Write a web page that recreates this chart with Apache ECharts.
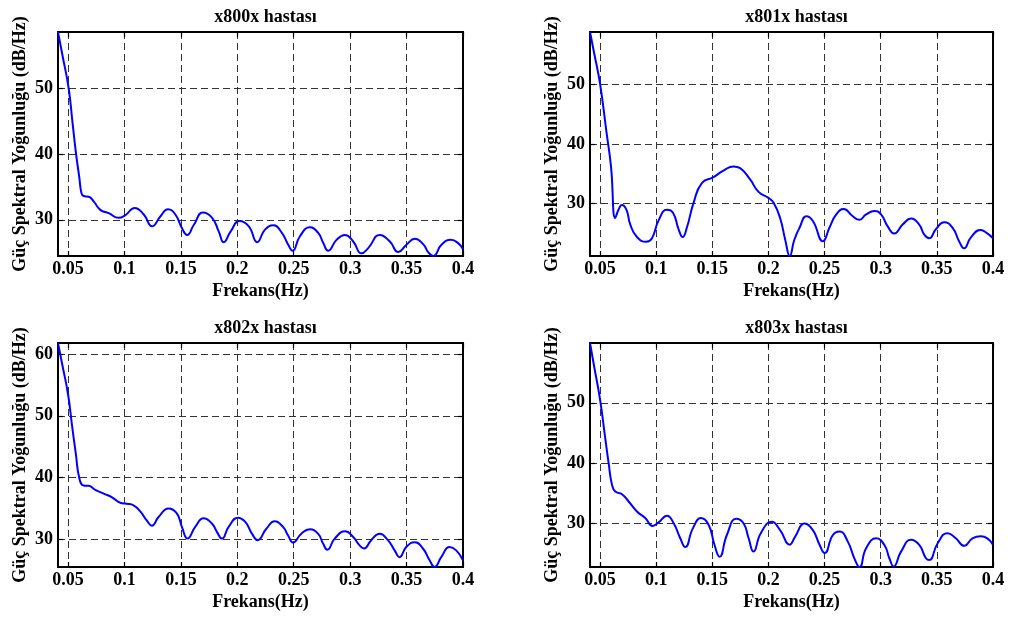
<!DOCTYPE html>
<html><head><meta charset="utf-8">
<script src="https://cdn.jsdelivr.net/npm/echarts@6/dist/echarts.min.js"></script>
<style>html,body{margin:0;padding:0;background:#fff}#c{width:1015px;height:619px}</style>
</head><body><div id="c"></div>
<script>
// ---- data ----
const titles = ['x800x hastası', 'x801x hastası', 'x802x hastası', 'x803x hastası'];
const xName = 'Frekans(Hz)';
const yName = 'Güç Spektral Yoğunluğu (dB/Hz)';
const xTicks = [0.05, 0.1, 0.15, 0.2, 0.25, 0.3, 0.35, 0.4];
const yTicks800 = [30, 40, 50];
const yTicks801 = [30, 40, 50];
const yTicks802 = [30, 40, 50, 60];
const yTicks803 = [30, 40, 50];

// [frequency (Hz), PSD (dB/Hz)]
const psd800 = [[0.0411,58.5],[0.0450,55.0],[0.0505,50.0],[0.0540,44.7],[0.0571,40.0],[0.0600,36.4],[0.0618,34.1],[0.0638,33.6],[0.0683,33.5],[0.0727,32.8],[0.0786,31.5],[0.0860,31.0],[0.0949,30.3],[0.1008,30.7],[0.1090,31.8],[0.1171,30.8],[0.1245,29.0],[0.1318,30.5],[0.1385,31.6],[0.1451,30.8],[0.1510,28.7],[0.1555,27.7],[0.1614,29.2],[0.1695,31.1],[0.1777,30.3],[0.1836,28.2],[0.1880,26.6],[0.1940,28.2],[0.2020,29.8],[0.2102,29.0],[0.2176,26.6],[0.2245,28.5],[0.2319,29.15],[0.2392,28.1],[0.2451,26.2],[0.2490,25.3],[0.2555,27.5],[0.2643,28.85],[0.2717,28.0],[0.2761,26.5],[0.2806,25.3],[0.2879,26.95],[0.2953,27.7],[0.3027,26.7],[0.3100,24.9],[0.3160,25.7],[0.3263,27.7],[0.3352,26.7],[0.3426,25.1],[0.3499,26.2],[0.3573,27.1],[0.3647,26.3],[0.3691,25.1],[0.3736,24.5],[0.3809,26.2],[0.3892,26.95],[0.3957,26.45],[0.4000,25.5]];
const psd801 = [[0.0411,58.85],[0.0450,55.1],[0.0500,50.2],[0.0559,41.8],[0.0598,36.2],[0.0636,27.5],[0.0665,28.9],[0.0696,29.7],[0.0735,28.9],[0.0770,26.4],[0.0829,24.3],[0.0912,23.5],[0.0963,24.1],[0.1022,27.1],[0.1096,28.9],[0.1150,28.4],[0.1200,25.6],[0.1236,24.3],[0.1274,25.9],[0.1334,30.1],[0.1407,33.4],[0.1511,34.4],[0.1600,35.5],[0.1689,36.2],[0.1748,35.9],[0.1837,34.0],[0.1912,31.9],[0.2000,30.9],[0.2045,30.1],[0.2104,27.5],[0.2150,23.8],[0.2190,21.1],[0.2230,23.8],[0.2278,25.9],[0.2338,27.8],[0.2396,27.0],[0.2485,23.6],[0.2544,25.9],[0.2604,28.1],[0.2669,29.0],[0.2751,27.8],[0.2810,27.2],[0.2870,28.1],[0.2944,28.7],[0.3003,28.1],[0.3062,26.1],[0.3121,24.9],[0.3195,26.4],[0.3270,27.4],[0.3343,26.4],[0.3388,24.7],[0.3432,24.1],[0.3491,25.6],[0.3565,26.8],[0.3639,25.9],[0.3698,23.6],[0.3743,22.4],[0.3802,24.2],[0.3890,25.5],[0.3949,24.9],[0.4000,24.1]];
const psd802 = [[0.0411,61.8],[0.0450,58.2],[0.0500,53.5],[0.0535,48.5],[0.0570,43.7],[0.0600,39.9],[0.0638,38.7],[0.0683,38.65],[0.0742,38.0],[0.0816,37.4],[0.0890,36.8],[0.0963,35.9],[0.1022,35.75],[0.1080,35.5],[0.1140,34.5],[0.1199,33.0],[0.1243,32.2],[0.1302,33.6],[0.1390,35.0],[0.1464,34.2],[0.1509,32.0],[0.1559,30.1],[0.1627,32.0],[0.1701,33.4],[0.1775,32.55],[0.1819,31.2],[0.1864,30.1],[0.1923,32.0],[0.2006,33.5],[0.2071,32.8],[0.2130,30.9],[0.2180,29.85],[0.2257,31.7],[0.2332,32.9],[0.2405,32.0],[0.2450,30.6],[0.2494,29.45],[0.2567,30.9],[0.2642,31.6],[0.2715,30.9],[0.2760,29.3],[0.2798,28.3],[0.2863,30.1],[0.2957,31.3],[0.3025,30.4],[0.3084,29.0],[0.3122,28.5],[0.3187,29.85],[0.3261,30.9],[0.3335,29.85],[0.3394,28.2],[0.3438,27.1],[0.3497,28.75],[0.3571,29.5],[0.3645,28.5],[0.3704,26.6],[0.3748,25.5],[0.3807,27.1],[0.3881,28.75],[0.3940,28.2],[0.4000,26.6]];
const psd803 = [[0.0411,59.9],[0.0450,55.8],[0.0500,50.6],[0.0547,44.1],[0.0577,40.0],[0.0607,36.4],[0.0636,35.3],[0.0696,34.86],[0.0755,33.65],[0.0829,32.0],[0.0903,30.9],[0.0969,29.6],[0.1022,30.2],[0.1096,31.3],[0.1156,30.05],[0.1214,27.6],[0.1259,26.1],[0.1327,29.2],[0.1399,30.9],[0.1467,29.8],[0.1520,26.45],[0.1565,24.5],[0.1630,28.1],[0.1713,30.8],[0.1778,30.05],[0.1823,27.6],[0.1867,25.35],[0.1932,28.4],[0.2030,30.3],[0.2104,28.9],[0.2190,26.5],[0.2237,27.8],[0.2322,30.0],[0.2396,28.9],[0.2456,26.45],[0.2500,25.1],[0.2574,28.1],[0.2633,28.7],[0.2707,27.0],[0.2766,24.2],[0.2811,22.8],[0.2870,25.9],[0.2959,27.55],[0.3033,26.45],[0.3077,24.25],[0.3115,22.9],[0.3181,25.35],[0.3270,27.3],[0.3343,26.45],[0.3403,24.25],[0.3432,23.95],[0.3506,26.7],[0.3595,28.4],[0.3669,27.55],[0.3743,26.3],[0.3817,27.55],[0.3891,27.9],[0.3950,27.55],[0.4000,26.5]];

// ---- layout ----
const boxes = [
  {left: 58,  top: 32,  width: 405, height: 224, titleTop: 3},
  {left: 590, top: 32,  width: 403, height: 224, titleTop: 3},
  {left: 58,  top: 343, width: 405, height: 224, titleTop: 314},
  {left: 590, top: 343, width: 403, height: 224, titleTop: 314}
];
const panelData = [psd800, psd801, psd802, psd803];
const panelYTicks = [yTicks800, yTicks801, yTicks802, yTicks803];

const FONT = "'Liberation Serif', 'Times New Roman', serif";
const txt = {fontFamily: FONT, fontWeight: 'bold', fontSize: 18, color: '#000'};
const gridLine = {type: [7, 4], color: '#333', width: 1};
const tick = {show: true, inside: true, length: 5, lineStyle: {color: '#000', width: 1.2}};

const option = {animation: false, backgroundColor: '#fff', title: [], grid: [], xAxis: [], yAxis: [], series: []};

panelData.forEach((data, i) => {
  const b = boxes[i];
  const xs = data.map(d => d[0]), ys = data.map(d => d[1]);
  const xmin = Math.min(...xs), xmax = Math.max(...xs);
  const ymin = Math.min(...ys), ymax = Math.max(...ys);
  const yt = panelYTicks[i];
  option.title.push({
    text: titles[i], left: b.left + b.width / 2, top: b.titleTop, textAlign: 'center',
    textStyle: Object.assign({}, txt)
  });
  option.grid.push({
    left: b.left, top: b.top, width: b.width, height: b.height,
    show: true, borderColor: '#000', borderWidth: 2, backgroundColor: '#fff',
    containLabel: false, outerBoundsMode: 'none'
  });
  option.xAxis.push({
    gridIndex: i, type: 'value', position: 'bottom', min: xmin, max: xmax,
    axisLine: {show: false},
    axisTick: Object.assign({customValues: xTicks}, tick),
    axisLabel: Object.assign({customValues: xTicks, margin: 4}, txt),
    splitLine: {show: true, showMaxLine: false, lineStyle: gridLine},
    name: xName, nameLocation: 'middle', nameGap: 26, nameTextStyle: Object.assign({}, txt)
  });
  option.xAxis.push({
    gridIndex: i, type: 'value', position: 'top', min: xmin, max: xmax,
    axisLine: {show: false},
    axisTick: Object.assign({customValues: xTicks}, tick),
    axisLabel: {show: false}, splitLine: {show: false}
  });
  option.yAxis.push({
    gridIndex: i, type: 'value', position: 'left', min: ymin, max: ymax,
    axisLine: {show: false},
    axisTick: Object.assign({customValues: yt}, tick),
    axisLabel: Object.assign({customValues: yt, margin: 5}, txt),
    splitLine: {show: true, lineStyle: gridLine},
    name: yName, nameLocation: 'middle', nameGap: 29, nameRotate: 90,
    nameTextStyle: Object.assign({}, txt)
  });
  option.yAxis.push({
    gridIndex: i, type: 'value', position: 'right', min: ymin, max: ymax,
    axisLine: {show: false},
    axisTick: Object.assign({customValues: yt}, tick),
    axisLabel: {show: false}, splitLine: {show: false}
  });
  option.series.push({
    type: 'line', xAxisIndex: 2 * i, yAxisIndex: 2 * i, data: data,
    showSymbol: false, smooth: 0.5, clip: true,
    lineStyle: {color: '#0000ff', width: 2}
  });
});

const chart = echarts.init(document.getElementById('c'), null, {renderer: 'canvas'});
chart.setOption(option);
</script>
</body></html>
